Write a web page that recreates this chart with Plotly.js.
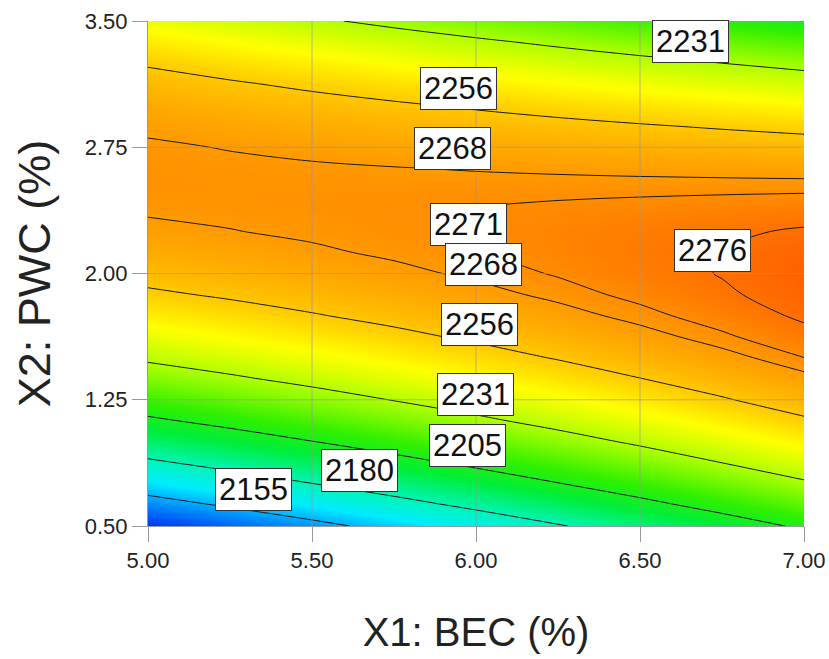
<!DOCTYPE html>
<html>
<head>
<meta charset="utf-8">
<script src="https://cdn.plot.ly/plotly-3.0.1.min.js"></script>
<style>html,body{margin:0;padding:0;background:#fff;}#chart{width:829px;height:659px;}</style>
</head>
<body>
<div id="chart"></div>
<script>
// X1: BEC (%) grid
const bec = [5.00, 5.25, 5.50, 5.75, 6.00, 6.25, 6.50, 6.75, 7.00];
// X2: PWC (%) grid
const pwc = [0.500, 0.625, 0.750, 0.875, 1.000, 1.125, 1.250, 1.375, 1.500, 1.625, 1.750, 1.875,
             2.000, 2.125, 2.250, 2.375, 2.500, 2.625, 2.750, 2.875, 3.000, 3.125, 3.250, 3.375, 3.500];
// response, one row per PWC value
const response = [
  [2131.93, 2141.30, 2150.68, 2160.08, 2169.48, 2178.90, 2188.32, 2197.76, 2207.21],
  [2148.08, 2156.87, 2165.67, 2174.48, 2183.30, 2192.14, 2200.98, 2209.83, 2218.70],
  [2163.24, 2171.44, 2179.65, 2187.89, 2196.12, 2204.37, 2212.63, 2220.90, 2229.18],
  [2177.39, 2185.01, 2192.64, 2200.29, 2207.94, 2215.61, 2223.28, 2230.97, 2238.67],
  [2190.53, 2197.56, 2204.61, 2211.67, 2218.74, 2225.83, 2232.91, 2240.02, 2247.14],
  [2202.66, 2209.11, 2215.57, 2222.06, 2228.54, 2235.04, 2241.55, 2248.07, 2254.60],
  [2213.79, 2219.66, 2225.54, 2231.44, 2237.34, 2243.26, 2249.18, 2255.12, 2261.07],
  [2223.92, 2229.20, 2234.50, 2239.81, 2245.13, 2250.47, 2255.80, 2261.16, 2266.52],
  [2233.03, 2237.74, 2242.45, 2247.18, 2251.91, 2256.66, 2261.41, 2266.18, 2270.97],
  [2241.15, 2245.27, 2249.39, 2253.54, 2257.69, 2261.85, 2266.03, 2270.22, 2274.41],
  [2248.24, 2251.78, 2255.32, 2258.89, 2262.45, 2266.03, 2269.62, 2273.22, 2276.84],
  [2254.35, 2257.30, 2260.26, 2263.24, 2266.22, 2269.22, 2272.22, 2275.24, 2278.27],
  [2259.44, 2261.81, 2264.19, 2266.58, 2268.98, 2271.39, 2273.80, 2276.25, 2278.70],
  [2263.53, 2265.31, 2267.10, 2268.92, 2270.73, 2272.56, 2274.40, 2276.25, 2278.12],
  [2266.60, 2267.80, 2269.01, 2270.24, 2271.47, 2272.72, 2273.97, 2275.24, 2276.52],
  [2268.67, 2269.29, 2269.92, 2270.56, 2271.21, 2271.87, 2272.54, 2273.23, 2273.93],
  [2269.74, 2269.77, 2269.81, 2269.88, 2269.94, 2270.02, 2270.11, 2270.21, 2270.32],
  [2269.80, 2269.25, 2268.71, 2268.19, 2267.67, 2267.17, 2266.67, 2266.19, 2265.72],
  [2268.86, 2267.72, 2266.60, 2265.50, 2264.39, 2263.31, 2262.22, 2261.16, 2260.10],
  [2266.90, 2265.18, 2263.48, 2261.79, 2260.10, 2258.43, 2256.76, 2255.12, 2253.48],
  [2263.95, 2261.65, 2259.35, 2257.08, 2254.81, 2252.56, 2250.31, 2248.08, 2245.85],
  [2259.98, 2257.10, 2254.22, 2251.37, 2248.51, 2245.67, 2242.84, 2240.03, 2237.22],
  [2255.01, 2251.54, 2248.08, 2244.64, 2241.20, 2237.78, 2234.36, 2230.96, 2227.57],
  [2249.03, 2244.98, 2240.94, 2236.91, 2232.89, 2228.89, 2224.89, 2220.90, 2216.93],
  [2242.05, 2237.41, 2232.78, 2228.18, 2223.57, 2218.98, 2214.39, 2209.82, 2205.25]
];
// contour levels drawn in the picture
const levels = [2155, 2180, 2205, 2231, 2256, 2268, 2271, 2276];
// contour label texts and where they sit
const labelTexts = ['2231', '2256', '2268', '2271', '2268', '2276', '2256', '2231', '2205', '2180', '2155'];
const labelX = [6.655, 5.948, 5.927, 5.976, 6.024, 6.72, 6.012, 5.997, 5.973, 5.646, 5.323];
const labelY = [3.38, 3.10, 2.744, 2.29, 2.054, 2.137, 1.70, 1.28, 0.976, 0.827, 0.714];
// axis ticks
const xTicks = [5.00, 5.50, 6.00, 6.50, 7.00];
const yTicks = [0.50, 1.25, 2.00, 2.75, 3.50];

const zmin = 2130, zmax = 2280;
const stop = (z, c) => [(z - zmin) / (zmax - zmin), c];
const colorscale = [
  stop(2130, '#0028f0'),
  stop(2152, '#009cff'),
  stop(2165, '#00ecff'),
  stop(2180, '#00f4b8'),
  stop(2198, '#00ee38'),
  stop(2212, '#30f000'),
  stop(2231, '#b0ff00'),
  stop(2245, '#ffff00'),
  stop(2256, '#ffc800'),
  stop(2268, '#ff9a00'),
  stop(2272, '#ff8800'),
  stop(2280, '#ff5a00')
];

const font = 'Arial, "Liberation Sans", sans-serif';

const traces = [{
  type: 'heatmap', x: bec, y: pwc, z: response, zsmooth: 'best',
  colorscale: colorscale, zmin: zmin, zmax: zmax, showscale: false, hoverinfo: 'skip'
}];
levels.forEach(L => {
  traces.push({
    type: 'contour', x: bec, y: pwc, z: response, autocontour: false,
    contours: {start: L, end: L, size: 1, coloring: 'none', showlabels: false},
    line: {color: '#1a1a1a', width: 1, smoothing: 1},
    showscale: false, hoverinfo: 'skip', showlegend: false
  });
});

const shapes = [];
xTicks.slice(1, -1).forEach(v => shapes.push({type: 'line', xref: 'x', yref: 'paper', x0: v, x1: v, y0: 0, y1: 1,
  line: {color: 'rgba(150,150,150,0.65)', width: 1}, layer: 'above'}));
yTicks.slice(1, -1).forEach(v => shapes.push({type: 'line', xref: 'paper', yref: 'y', x0: 0, x1: 1, y0: v, y1: v,
  line: {color: 'rgba(150,150,150,0.65)', width: 1}, layer: 'above'}));

const annotations = labelTexts.map((t, i) => ({
  x: labelX[i], y: labelY[i], xref: 'x', yref: 'y', text: t, showarrow: false,
  font: {family: font, size: 31, color: '#111'},
  bgcolor: '#ffffff', bordercolor: '#333', borderwidth: 1, borderpad: 3
}));

const layout = {
  width: 829, height: 659,
  margin: {l: 148, r: 25, t: 21, b: 133},
  paper_bgcolor: '#ffffff', plot_bgcolor: '#ffffff',
  showlegend: false,
  font: {family: font, color: '#222'},
  xaxis: {
    range: [5, 7], tickvals: xTicks, ticktext: xTicks.map(v => v.toFixed(2)),
    showgrid: false, zeroline: false, showline: true, linecolor: '#999', linewidth: 1,
    ticks: 'outside', ticklen: 15, tickcolor: '#999', tickwidth: 1,
    tickfont: {family: font, size: 22, color: '#222'},
    title: {text: 'X1: BEC (%)', font: {family: font, size: 40, color: '#222'}, standoff: 45}
  },
  yaxis: {
    range: [0.5, 3.5], tickvals: yTicks, ticktext: yTicks.map(v => v.toFixed(2)),
    showgrid: false, zeroline: false, showline: true, linecolor: '#999', linewidth: 1,
    ticks: 'outside', ticklen: 15, tickcolor: '#999', tickwidth: 1,
    tickfont: {family: font, size: 22, color: '#222'},
    title: {text: 'X2: PWC (%)', font: {family: font, size: 45, color: '#222'}, standoff: 20}
  },
  shapes: shapes,
  annotations: annotations
};

Plotly.newPlot('chart', traces, layout, {staticPlot: true, displayModeBar: false});
</script>
</body>
</html>
